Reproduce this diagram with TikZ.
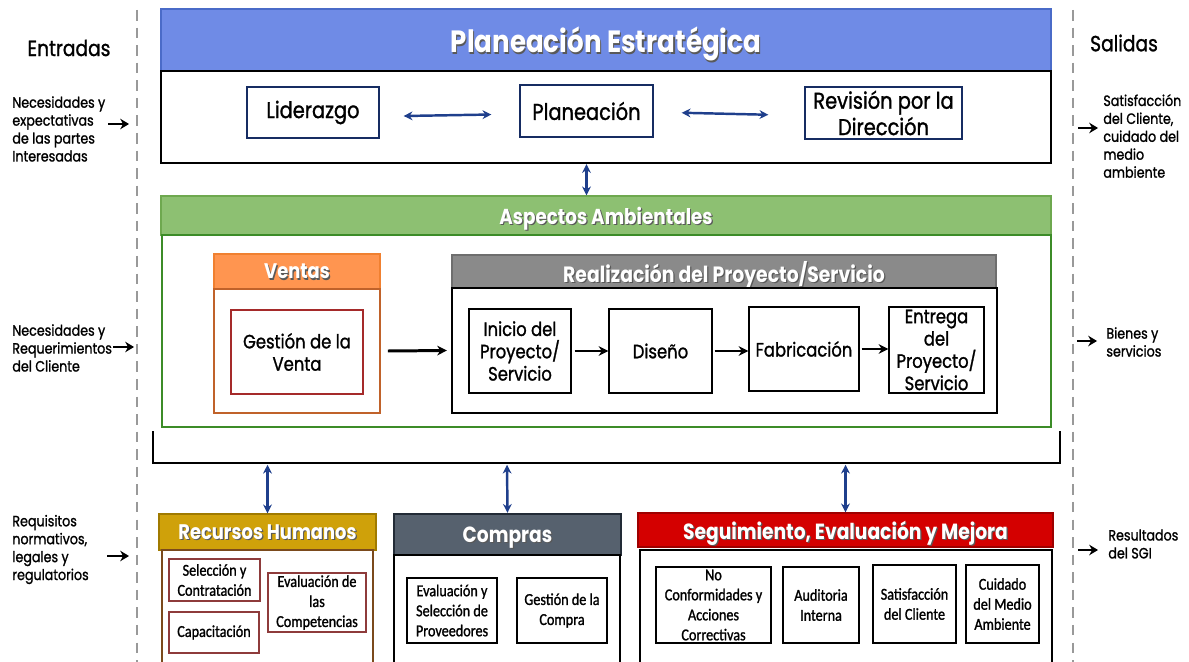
\documentclass[tikz,border=0pt]{standalone}
\usepackage{fontspec}
\setmainfont{Poppins}[FakeStretch=0.85]
\newfontfamily\medfont{Poppins}[FakeStretch=0.85,FakeBold=1.2]
\newfontfamily\calibri{Carlito}[FakeStretch=0.85,FakeBold=1.2]
\usetikzlibrary{arrows.meta}
\definecolor{peblue}{HTML}{6F8BE6}
\definecolor{pebluedk}{HTML}{4A6BC8}
\definecolor{aagreen}{HTML}{8DC072}
\definecolor{aagreendk}{HTML}{6EA84F}
\definecolor{aaline}{HTML}{3C8C28}
\definecolor{vorange}{HTML}{FF9550}
\definecolor{vorangedk}{HTML}{F08030}
\definecolor{vline}{HTML}{C0622A}
\definecolor{redline}{HTML}{A52A2A}
\definecolor{rgray}{HTML}{8A8A8A}
\definecolor{rgraydk}{HTML}{6E6E6E}
\definecolor{rhgold}{HTML}{CFA10A}
\definecolor{rhgolddk}{HTML}{A07A00}
\definecolor{rhline}{HTML}{7B4A1C}
\definecolor{rhinner}{HTML}{8E3B3B}
\definecolor{cslate}{HTML}{56616E}
\definecolor{cslatedk}{HTML}{222B36}
\definecolor{sred}{HTML}{D40000}
\definecolor{sreddk}{HTML}{9E0000}
\definecolor{navy}{HTML}{1F3F8C}
\newcommand\shtext[1]{\leavevmode\rlap{\kern0.7pt\raisebox{-0.7pt}{\textcolor{black!65}{#1}}}#1}

\begin{document}
\begin{tikzpicture}[x=0.02cm,y=-0.02cm,
    sz/.style 2 args={minimum width=#1*0.02cm,minimum height=#2*0.02cm},
    hdr/.style={draw,line width=0.8pt,text=white,inner sep=0pt,text depth=0pt,font=\fontsize{12}{14}\selectfont\bfseries},
    frame/.style={draw,line width=1.3pt,inner sep=0pt},
    box/.style={draw,line width=0.8pt,fill=white,inner sep=1pt,align=center,font=\medfont\fontsize{11}{12.7}\selectfont},
    tbox/.style={box,draw=black!80,font=\medfont\fontsize{13}{15}\selectfont},
    sbox/.style={box,line width=0.7pt,font=\calibri\fontsize{9.5}{11.4}\selectfont},
    side/.style={anchor=west,align=left,inner sep=0pt,font=\medfont\fontsize{8.5}{10.2}\selectfont},
    dbl/.style={{Stealth[length=5pt,width=5pt]}-{Stealth[length=5pt,width=5pt]},draw=navy,line width=1.4pt},
    flow/.style={-{Stealth[length=5.5pt,width=5.5pt]},line width=1.7pt},
    io/.style={-{Stealth[length=5pt,width=6pt]},line width=1.7pt}]
\useasboundingbox (0,0) rectangle (1189,662);
\clip (0,0) rectangle (1189,662);

\draw[gray!80,dashed,dash pattern=on 6pt off 4pt,line width=0.8pt] (137,10) -- (137,662);
\draw[gray!80,dashed,dash pattern=on 6pt off 4pt,line width=0.8pt] (1073,10) -- (1073,662);
\node[font=\medfont\fontsize{12.5}{14}\selectfont] (entradas) at (69,48) {Entradas};
\node[font=\medfont\fontsize{12.5}{14}\selectfont] (salidas) at (1124,43) {Salidas};

\node[hdr,fill=peblue,draw=pebluedk,sz={890}{62},font=\fontsize{17.5}{19}\selectfont\bfseries] (pe) at (606,40) {\shtext{Planeación Estratégica}};
\node[frame,sz={890}{92}] (peBody) at (606,117) {};
\node[tbox,draw=navy!70!black,sz={132}{51}] (lid) at (313,112.5) {Liderazgo};
\node[tbox,draw=navy!70!black,sz={133}{52}] (plan) at (586.5,111) {Planeación};
\node[tbox,draw=navy!70!black,sz={157}{52}] (rev) at (883.5,113) {Revisión por la\\Dirección};
\draw[dbl] ([xshift=0.48cm,yshift=-2pt]lid.east) -- ([xshift=-0.56cm,yshift=-2pt]plan.west);
\draw[dbl] ([xshift=0.56cm,yshift=-1pt]plan.east) -- ([xshift=-0.72cm,yshift=-1pt]rev.west);

\node[hdr,fill=aagreen,draw=aagreendk,sz={890}{39},font=\fontsize{12.3}{14}\selectfont\bfseries] (aa) at (606,215.5) {\shtext{Aspectos Ambientales}};
\node[frame,draw=aaline,sz={889}{192}] (aaBody) at (606.5,331) {};
\draw[dbl] (peBody.south -| plan) -- (aa.north -| plan);

\node[hdr,fill=vorange,draw=vorangedk,sz={166}{35}] (ventas) at (297,271.5) {\shtext{Ventas}};
\node[frame,draw=vline,line width=1pt,sz={166}{124}] (ventasBody) at (297,351) {};
\node[box,draw=redline,sz={132}{84}] (gv) at (297,352) {Gestión de la\\Venta};

\node[hdr,fill=rgray,draw=rgraydk,sz={544}{33},font=\fontsize{12.6}{14}\selectfont\bfseries] (real) at (724,271.5) {\shtext{Realización del Proyecto/Servicio}};
\node[frame,sz={545}{125}] (realBody) at (724.5,350.5) {};
\node[box,sz={102}{84}] (inicio) at (520,351) {Inicio del\\Proyecto/\\Servicio};
\node[box,sz={103}{84}] (diseno) at (660.5,351) {Diseño};
\node[box,sz={110}{84}] (fab) at (804,349) {Fabricación};
\node[box,sz={95}{86}] (entrega) at (936.5,350) {Entrega\\del\\Proyecto/\\Servicio};
\draw[flow] ([xshift=0.14cm]ventasBody.east) -- ([xshift=-0.08cm]realBody.west);
\draw[flow] ([xshift=0.06cm]inicio.east) -- (diseno.west);
\draw[flow] ([xshift=0.04cm]diseno.east) -- (fab.west |- diseno);
\draw[flow] ([xshift=0.04cm]fab.east) -- (entrega.west |- fab);

\draw[line width=1.3pt] (153,431) -- (153,463) -- (1060,463) -- (1060,431);
\coordinate (brRH) at (267.5,463);
\coordinate (brC) at (507,463);
\coordinate (brS) at (845.5,463);

\node[hdr,fill=rhgold,draw=rhgolddk,sz={217}{36}] (rh) at (267.5,532) {\shtext{Recursos Humanos}};
\node[frame,draw=rhline,line width=1pt,sz={211}{150}] (rhBody) at (267.5,625) {};
\node[sbox,draw=rhinner,sz={91}{42}] (selec) at (214.5,580) {Selección y\\Contratación};
\node[sbox,draw=rhinner,sz={90}{41}] (capac) at (214,632.5) {Capacitación};
\node[sbox,draw=rhinner,sz={98}{59}] (evcomp) at (317,602.5) {Evaluación de\\las\\Competencias};
\draw[dbl] ([yshift=-1pt]brRH) -- (rh.north);

\node[hdr,fill=cslate,draw=cslatedk,line width=1.4pt,sz={227}{41},font=\fontsize{12.5}{14}\selectfont\bfseries] (compras) at (507.5,534.5) {\shtext{Compras}};
\node[frame,sz={226}{145}] (comprasBody) at (507,627.5) {};
\node[sbox,sz={90}{65}] (evprov) at (452,610.5) {Evaluación y\\Selección de\\Proveedores};
\node[sbox,sz={90}{65}] (gcompra) at (562,610.5) {Gestión de la\\Compra};
\draw[dbl] ([yshift=-1pt]brC) -- (compras.north);

\node[hdr,fill=sred,draw=sreddk,sz={415}{34},font=\fontsize{12.5}{14}\selectfont\bfseries] (seg) at (845.5,530) {\shtext{Seguimiento, Evaluación y Mejora}};
\node[frame,sz={412}{150}] (segBody) at (846,625) {};
\node[sbox,sz={115}{76}] (noconf) at (713.5,605) {No\\Conformidades y\\Acciones\\Correctivas};
\node[sbox,sz={76}{76}] (audit) at (821,605) {Auditoria\\Interna};
\node[sbox,sz={83}{78}] (satcli) at (914.5,604) {Satisfacción\\del Cliente};
\node[sbox,sz={73}{78}] (cuidado) at (1002.5,604) {Cuidado\\del Medio\\Ambiente};
\draw[dbl] ([yshift=-1pt]brS) -- (seg.north);

\node[side] (in1) at (12,129) {Necesidades y\\expectativas\\de las partes\\Interesadas};
\node[side] (in2) at (12,348) {Necesidades y\\Requerimientos\\del Cliente};
\node[side] (in3) at (12,549.5) {Requisitos\\normativos,\\legales y\\regulatorios};
\coordinate (in1a) at (108,124); \coordinate (in1b) at (129,124);
\coordinate (in2a) at (113,347); \coordinate (in2b) at (134,347);
\coordinate (in3a) at (107,556); \coordinate (in3b) at (129,556);
\draw[io] (in1a) -- (in1b);
\draw[io] (in2a) -- (in2b);
\draw[io] (in3a) -- (in3b);

\node[side] (out1) at (1103,136) {Satisfacción\\del Cliente,\\cuidado del\\medio\\ambiente};
\node[side] (out2) at (1106,342) {Bienes y\\servicios};
\node[side] (out3) at (1108,544) {Resultados\\del SGI};
\coordinate (out1a) at (1078,128); \coordinate (out1b) at (1098,128);
\coordinate (out2a) at (1077,341); \coordinate (out2b) at (1097,341);
\coordinate (out3a) at (1078,550); \coordinate (out3b) at (1098,550);
\draw[io] (out1a) -- (out1b);
\draw[io] (out2a) -- (out2b);
\draw[io] (out3a) -- (out3b);
\end{tikzpicture}
\end{document}
